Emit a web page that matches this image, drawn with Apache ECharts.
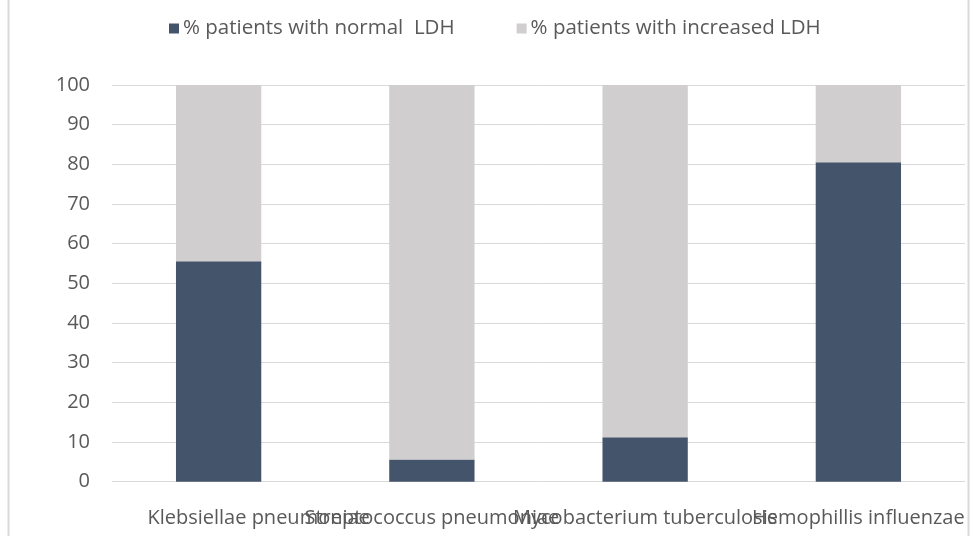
<!DOCTYPE html>
<html>
<head>
<meta charset="utf-8">
<script src="https://cdn.jsdelivr.net/npm/echarts@6/dist/echarts.min.js"></script>
<style>
  html, body { margin: 0; padding: 0; background: #fff; }
  #chart { width: 972px; height: 536px; }
</style>
</head>
<body>
<div id="chart"></div>
<script>
// Organisms on the x axis
const categories = [
  'Klebsiellae pneumoniae',
  'Streptococcus pneumoniae',
  'Mycobacterium tuberculosis',
  'Hemophillis influenzae'
];
// Share of patients with normal LDH (%)
const normalLDH = [55.6, 5.6, 11.2, 80.5];
// Share of patients with increased LDH (%)
const increasedLDH = [44.4, 94.4, 88.8, 19.5];
// Value axis ticks
const yTicks = { min: 0, max: 100, interval: 10 };

const font = '"Open Sans", "Noto Sans", sans-serif';
const textColor = '#595959';

const chart = echarts.init(document.getElementById('chart'), null, { renderer: 'canvas' });
chart.setOption({
  animation: false,
  backgroundColor: '#ffffff',
  legend: {
    top: 13,
    left: 164,
    itemWidth: 10,
    itemHeight: 10,
    itemGap: 62,
    icon: 'rect',
    textStyle: { color: textColor, fontFamily: font, fontSize: 20.5, padding: [0, 0, 0, -1] },
    data: ['% patients with normal  LDH', '% patients with increased LDH']
  },
  grid: { left: 112, right: 7, top: 85, bottom: 54.3, containLabel: false },
  xAxis: {
    type: 'category',
    data: categories,
    axisLine: { show: false },
    axisTick: { show: false },
    axisLabel: {
      interval: 0,
      margin: 27,
      color: textColor,
      fontFamily: font,
      fontSize: 20,
      // the first label sits a little right of its bar
      formatter: (value, idx) => idx === 0 ? '{first|' + value + '}' : value,
      rich: {
        first: { color: textColor, fontFamily: font, fontSize: 20, padding: [0, 0, 0, 80] }
      }
    }
  },
  yAxis: {
    type: 'value',
    min: yTicks.min,
    max: yTicks.max,
    interval: yTicks.interval,
    axisLine: { show: false },
    axisTick: { show: false },
    axisLabel: { color: textColor, fontFamily: font, fontSize: 20, margin: 22 },
    splitLine: { lineStyle: { color: '#d9d9d9', width: 1 } }
  },
  series: [
    {
      name: '% patients with normal  LDH',
      type: 'bar',
      stack: 'ldh',
      barWidth: '40%',
      itemStyle: { color: '#44546a' },
      data: normalLDH
    },
    {
      name: '% patients with increased LDH',
      type: 'bar',
      stack: 'ldh',
      barWidth: '40%',
      itemStyle: { color: '#d0cece' },
      data: increasedLDH
    }
  ],
  graphic: [
    { type: 'line', shape: { x1: 8.5, y1: 0, x2: 8.5, y2: 536 }, style: { stroke: '#d9d9d9', lineWidth: 2 } },
    { type: 'line', shape: { x1: 968.5, y1: 0, x2: 968.5, y2: 536 }, style: { stroke: '#d9d9d9', lineWidth: 2 } }
  ]
});
</script>
</body>
</html>
